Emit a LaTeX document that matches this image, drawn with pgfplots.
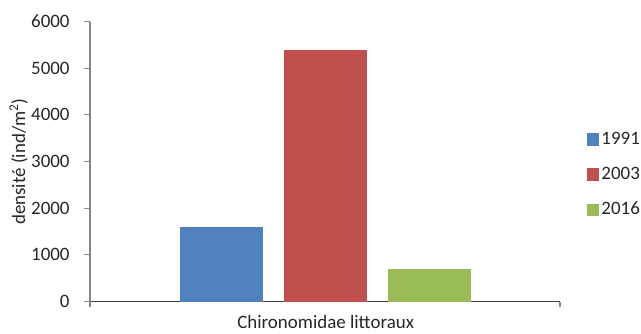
\documentclass[border=0pt]{standalone}
\usepackage{pgfplots}
\pgfplotsset{compat=1.18}
\usepackage{fontspec}
\setmainfont{Carlito}
\definecolor{c1}{HTML}{4F81BD}
\definecolor{c2}{HTML}{C0504D}
\definecolor{c3}{HTML}{9BBB59}
\definecolor{yax}{HTML}{868686}
\definecolor{xax}{HTML}{404040}
\pgfplotsset{mylegend/.style={legend image code/.code={\fill[##1] (0pt,-4.6pt) rectangle (9.2pt,4.6pt);}}}
\newcommand{\ff}{\fontsize{14.2}{17}\selectfont}
\begin{document}
\begin{tikzpicture}
\path[use as bounding box] (-67.5pt,-23.625pt) rectangle (413.25pt,226.125pt);
\begin{axis}[
  at={(0,0)}, anchor=south west, scale only axis,
  width=352.5pt, height=210pt,
  xmin=-2.266, xmax=2.253, ymin=0, ymax=6000,
  axis lines*=left,
  x axis line style={xax, line width=0.9pt},
  y axis line style={yax, line width=0.9pt},
  ybar, bar width=0.793,
  ytick={0,1000,2000,3000,4000,5000,6000},
  scaled y ticks=false,
  /pgf/number format/.cd, 1000 sep={}, assume math mode=true, /pgfplots/.cd,
  tick align=outside,
  major tick length=4.3pt,
  y tick style={yax, line width=0.9pt},
  x tick style={yax, line width=0.9pt},
  xtick={-2.266,2.253}, xticklabels={},
  extra x ticks={0},
  extra x tick labels={Chironomidae littoraux},
  extra x tick style={major tick length=0pt, tick label style={anchor=base, yshift=-20.5pt}},
  tick label style={font=\ff, text=black!85},
  yticklabel style={xshift=-7.5pt},
  ylabel={densité (ind/m\textsuperscript{2})},
  ylabel style={font=\ff, text=black!85, at={(axis description cs:-0.152,0.5)}, anchor=center, rotate=0},
  legend style={draw=none, fill=none, font=\ff, text=black!85, at={(rel axis cs:1.057,0.4536)}, anchor=west,
    inner sep=0pt, outer sep=0pt, row sep=9.75pt,
    nodes={inner sep=1.8pt, text height=10pt, text depth=3pt, anchor=west}},
  legend cell align=left,
]
\addplot[fill=c1, draw=none, bar shift=0pt, mylegend] coordinates {(-1,1600)};
\addplot[fill=c2, draw=none, bar shift=0pt, mylegend] coordinates {(0,5400)};
\addplot[fill=c3, draw=none, bar shift=0pt, mylegend] coordinates {(1,705)};
\legend{1991,2003,2016}
\end{axis}
\end{tikzpicture}
\end{document}
